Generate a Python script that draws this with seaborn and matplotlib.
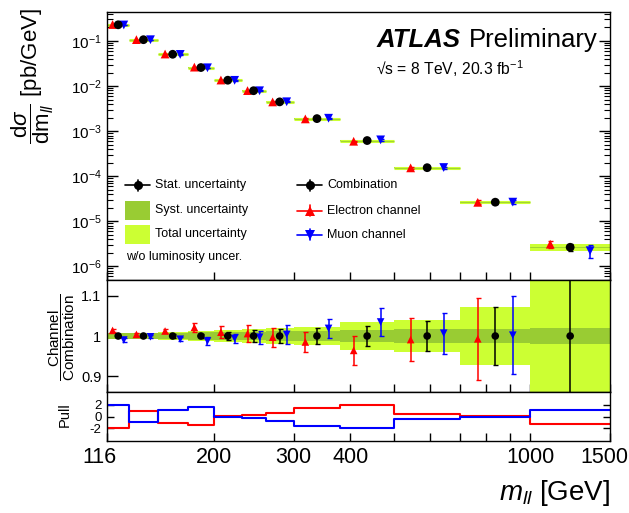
import numpy as np
import pandas as pd
import matplotlib
matplotlib.use("Agg")
import matplotlib.pyplot as plt
import seaborn as sns
from matplotlib.lines import Line2D
from matplotlib.patches import Rectangle
from matplotlib.ticker import FixedLocator, FixedFormatter, LogLocator, NullLocator, NullFormatter

# ---- data: dilepton invariant-mass bins ----
mass_edges = [116, 130, 150, 175, 200, 230, 260, 300, 380, 500, 700, 1000, 1500]

# combined cross section dsigma/dm [pb/GeV]
xsec_comb = [0.229, 0.107, 0.0508, 0.0258, 0.0135, 0.0079, 0.00447, 0.0019,
             6.2e-4, 1.55e-4, 2.66e-5, 2.66e-6]
# relative uncertainties of the combination
comb_stat = [0.003, 0.003, 0.004, 0.006, 0.010, 0.014, 0.017, 0.020, 0.026, 0.037, 0.072, 0.18]
comb_syst = [0.007, 0.007, 0.008, 0.009, 0.010, 0.011, 0.012, 0.013, 0.014, 0.017, 0.018, 0.019]
comb_total = [0.008, 0.008, 0.009, 0.012, 0.014, 0.018, 0.021, 0.023, 0.034, 0.040, 0.073, 0.19]

# channel / combination ratios and their relative uncertainties
ratio_el = [1.014, 1.004, 1.0125, 1.0215, 1.0095, 1.006, 0.997, 0.985, 0.964, 0.991, 0.993, 1.17]
ratio_mu = [0.990, 0.998, 0.992, 0.9875, 0.994, 0.997, 1.004, 1.019, 1.035, 1.007, 1.002, 0.84]
err_el = [0.004, 0.004, 0.005, 0.011, 0.015, 0.021, 0.024, 0.026, 0.037, 0.054, 0.103, 0.18]
err_mu = [0.004, 0.004, 0.005, 0.011, 0.012, 0.016, 0.023, 0.024, 0.034, 0.051, 0.098, 0.32]

# pulls of each channel with respect to the combination
pull_el = [-1.9, 0.86, -1.03, -1.5, 0.05, 0.28, 0.68, 1.5, 2.0, 0.4, 0.17, -1.25]
pull_mu = [2.0, -0.86, 1.03, 1.6, -0.02, -0.3, -0.72, -1.55, -2.05, -0.45, -0.17, 1.15]

xtick_values = [116, 200, 300, 400, 500, 600, 700, 800, 900, 1000, 1500]
xtick_labels = ["", "200", "300", "400", "", "", "", "", "", "1000", ""]

# ---- style ----
sns.set_theme(style="white")
plt.rcParams["font.family"] = ["Liberation Sans", "DejaVu Sans"]
plt.rcParams["mathtext.fontset"] = "custom"
plt.rcParams["mathtext.rm"] = "Liberation Sans"
plt.rcParams["mathtext.it"] = "Liberation Sans:italic"
plt.rcParams["mathtext.bf"] = "Liberation Sans:bold"
plt.rcParams["mathtext.sf"] = "Liberation Sans"
for key in ("text.color", "axes.labelcolor", "xtick.color", "ytick.color", "axes.edgecolor"):
    plt.rcParams[key] = "black"
plt.rcParams["axes.linewidth"] = 1.0

C_SYST = "#99cc33"
C_TOT = "#ccff33"
C_EL = "#ff0000"
C_MU = "#0000ff"

W, H = 629, 513
fig = plt.figure(figsize=(W / 100, H / 100), dpi=100)


def box(l, t, r, b):
    return [l / W, 1 - b / H, (r - l) / W, (b - t) / H]


def fx(px):
    return px / W


def fy(py):
    return 1 - py / H


ax_main = fig.add_axes(box(107, 12, 610, 280))
ax_ratio = fig.add_axes(box(107, 280, 610, 392))
ax_pull = fig.add_axes(box(107, 392, 610, 441))

lo = np.array(mass_edges[:-1], float)
hi = np.array(mass_edges[1:], float)
x_comb = np.sqrt(lo * hi)
x_el = lo * (hi / lo) ** 0.25
x_mu = lo * (hi / lo) ** 0.75

xs = np.array(xsec_comb)
r_el, r_mu = np.array(ratio_el), np.array(ratio_mu)
e_el, e_mu = np.array(err_el), np.array(err_mu)
c_stat, c_syst, c_tot = np.array(comb_stat), np.array(comb_syst), np.array(comb_total)

for ax in (ax_main, ax_ratio, ax_pull):
    ax.set_xscale("log")
    ax.set_xlim(116, 1500)

marker_map = {"Combination": "o", "Electron channel": "^", "Muon channel": "v"}
color_map = {"Combination": "black", "Electron channel": C_EL, "Muon channel": C_MU}

# ---- main panel: cross sections ----
ax_main.set_yscale("log")
ax_main.set_ylim(5e-7, 0.44)
for i in range(len(xs)):
    ax_main.fill_between([lo[i], hi[i]], xs[i] * (1 - c_tot[i]), xs[i] * (1 + c_tot[i]),
                         color=C_TOT, lw=0)
    ax_main.fill_between([lo[i], hi[i]], xs[i] * (1 - c_syst[i]), xs[i] * (1 + c_syst[i]),
                         color=C_SYST, lw=0)
ax_main.hlines(xs, lo, hi, color=C_TOT, lw=2.2)
ax_main.hlines(xs, lo, hi, color=C_SYST, lw=0.6)

y_el = xs * r_el
y_mu = xs * r_mu
ax_main.errorbar(x_el, y_el, yerr=y_el * e_el, fmt="none", ecolor=C_EL, elinewidth=1.1, capsize=1.8)
ax_main.errorbar(x_mu, y_mu, yerr=y_mu * e_mu, fmt="none", ecolor=C_MU, elinewidth=1.1, capsize=1.8)
ax_main.errorbar(x_comb, xs, yerr=xs * c_stat, fmt="none", ecolor="black", elinewidth=1.1, capsize=1.8)

df_main = pd.DataFrame({
    "mass": np.concatenate([x_el, x_mu, x_comb]),
    "value": np.concatenate([y_el, y_mu, xs]),
    "series": ["Electron channel"] * len(xs) + ["Muon channel"] * len(xs) + ["Combination"] * len(xs),
})
sns.scatterplot(data=df_main, x="mass", y="value", hue="series", style="series",
                markers=marker_map, palette=color_map, s=40, linewidth=0,
                legend=False, ax=ax_main, zorder=5)

dec = [1e-6, 1e-5, 1e-4, 1e-3, 1e-2, 1e-1]
ax_main.yaxis.set_major_locator(FixedLocator(dec))
ax_main.yaxis.set_major_formatter(FixedFormatter([r"$10^{-%d}$" % k for k in (6, 5, 4, 3, 2, 1)]))
ax_main.yaxis.set_minor_locator(LogLocator(base=10, subs=np.arange(2, 10), numticks=20))
ax_main.yaxis.set_minor_formatter(NullFormatter())
ax_main.tick_params(axis="y", which="major", direction="in", length=8, width=1,
                    left=True, right=True, labelsize=11, pad=4)
ax_main.tick_params(axis="y", which="minor", direction="in", length=4, width=0.8,
                    left=True, right=True)

# ---- ratio panel ----
ax_ratio.set_ylim(0.86, 1.14)
ext = lambda a: np.append(a, a[-1])
ax_ratio.fill_between(mass_edges, 1 - ext(c_tot), 1 + ext(c_tot), step="post", color=C_TOT, lw=0)
ax_ratio.fill_between(mass_edges, 1 - ext(c_syst), 1 + ext(c_syst), step="post", color=C_SYST, lw=0)

lo_lim, hi_lim = ax_ratio.get_ylim()
vis_el = (r_el > lo_lim) & (r_el < hi_lim)
vis_mu = (r_mu > lo_lim) & (r_mu < hi_lim)
ax_ratio.errorbar(x_el[vis_el], r_el[vis_el], yerr=e_el[vis_el], fmt="none", ecolor=C_EL,
                  elinewidth=1.1, capsize=1.8)
ax_ratio.errorbar(x_mu[vis_mu], r_mu[vis_mu], yerr=e_mu[vis_mu], fmt="none", ecolor=C_MU,
                  elinewidth=1.1, capsize=1.8)
ax_ratio.errorbar(x_comb, np.ones_like(x_comb), yerr=c_stat, fmt="none", ecolor="black",
                  elinewidth=1.1, capsize=1.8)
df_ratio = pd.DataFrame({
    "mass": np.concatenate([x_el[vis_el], x_mu[vis_mu], x_comb]),
    "value": np.concatenate([r_el[vis_el], r_mu[vis_mu], np.ones_like(x_comb)]),
    "series": ["Electron channel"] * int(vis_el.sum()) + ["Muon channel"] * int(vis_mu.sum())
              + ["Combination"] * len(x_comb),
})
sns.scatterplot(data=df_ratio, x="mass", y="value", hue="series", style="series",
                markers=marker_map, palette=color_map, s=30, linewidth=0,
                legend=False, ax=ax_ratio, zorder=5)
ax_ratio.set_yticks([0.9, 1.0, 1.1])
ax_ratio.set_yticklabels(["0.9", "1", "1.1"])
ax_ratio.tick_params(axis="y", direction="in", length=8, width=1, left=True, right=True,
                     labelsize=10.5, pad=4)

# ---- pull panel ----
ax_pull.set_ylim(-4.2, 4.2)
df_pull = pd.DataFrame({
    "mass": mass_edges * 2,
    "pull": np.concatenate([ext(np.array(pull_el)), ext(np.array(pull_mu))]),
    "series": ["Electron channel"] * len(mass_edges) + ["Muon channel"] * len(mass_edges),
})
sns.lineplot(data=df_pull, x="mass", y="pull", hue="series", palette=color_map,
             drawstyle="steps-post", lw=1.5, legend=False, ax=ax_pull, estimator=None, sort=True)
ax_pull.set_yticks([-2, 0, 2])
ax_pull.set_yticklabels(["-2", "0", "2"])
ax_pull.tick_params(axis="y", direction="in", length=5, width=1, left=True, right=True,
                    labelsize=9.5, pad=4)

# ---- shared x axis formatting ----
for ax in (ax_main, ax_ratio, ax_pull):
    ax.xaxis.set_major_locator(FixedLocator(xtick_values))
    ax.xaxis.set_minor_locator(NullLocator())
    ax.tick_params(axis="x", direction="in", length=6, width=1, bottom=True, top=False)
    ax.set_xlabel("")
    ax.set_ylabel("")
    for s in ax.spines.values():
        s.set_visible(True)
        s.set_color("black")
ax_main.tick_params(axis="x", labelbottom=False)
ax_ratio.tick_params(axis="x", labelbottom=False)
ax_pull.xaxis.set_major_formatter(FixedFormatter(xtick_labels))
ax_pull.tick_params(axis="x", labelsize=15.5, pad=4)
# range-end labels sit slightly left of the axis ends
label_top = fy(441 + 5.6)
fig.text(fx(99.5), label_top, "116", ha="center", va="top", fontsize=15.5)
fig.text(fx(604), label_top, "1500", ha="center", va="top", fontsize=15.5)

# ---- axis titles ----
fig.text(fx(33), fy(76), r"$\dfrac{\mathrm{d}\sigma}{\mathrm{dm}_{\mathit{ll}}}$ [pb/GeV]",
         rotation=90, ha="center", va="center", fontsize=16)
fig.text(fx(62), fy(337), r"$\dfrac{\mathrm{Channel}}{\mathrm{Combination}}$",
         rotation=90, ha="center", va="center", fontsize=11)
fig.text(fx(65), fy(415), "Pull", rotation=90, ha="center", va="center", fontsize=10.5)
fig.text(fx(610), fy(493), r"$m_{ll}$ [GeV]", ha="right", va="center", fontsize=20)

# ---- experiment label ----
fig.text(fx(377), fy(46.7), "ATLAS", fontsize=18.5, fontweight="bold", fontstyle="italic",
         va="baseline", ha="left")
fig.text(fx(469), fy(46.7), "Preliminary", fontsize=18.5, va="baseline", ha="left")
fig.text(fx(376), fy(75), "\u221as = 8 TeV, 20.3 fb$^{-1}$", fontsize=11.3,
         va="baseline", ha="left")


# ---- legend (two columns) ----
def key_point(x0, y, color, marker):
    fig.add_artist(Line2D([fx(x0), fx(x0 + 25)], [fy(y), fy(y)], color=color, lw=1.2,
                          transform=fig.transFigure))
    fig.add_artist(Line2D([fx(x0 + 12.5)], [fy(y)], color=color, marker=marker, ms=6.5, mew=0,
                          ls="none", transform=fig.transFigure))
    fig.add_artist(Line2D([fx(x0 + 12.5)] * 2, [fy(y - 5.5), fy(y + 5.5)], color=color, lw=1.2,
                          transform=fig.transFigure))


def key_box(x0, y, color):
    fig.add_artist(Rectangle((fx(x0), fy(y + 9.5)), 25 / W, 19 / H, facecolor=color,
                             edgecolor="none", transform=fig.transFigure))


rows = [185, 210.5, 234.5]
key_point(125, rows[0], "black", "o")
key_box(125, rows[1], C_SYST)
key_box(125, rows[2], C_TOT)
for y, t in zip(rows, ["Stat. uncertainty", "Syst. uncertainty", "Total uncertainty"]):
    fig.text(fx(155), fy(y), t, fontsize=9, va="center", ha="left")
fig.text(fx(126), fy(257), "w/o luminosity uncer.", fontsize=9, va="center", ha="left")

key_point(297, rows[0], "black", "o")
key_point(297, rows[1], C_EL, "^")
key_point(297, rows[2], C_MU, "v")
for y, t in zip(rows, ["Combination", "Electron channel", "Muon channel"]):
    fig.text(fx(327), fy(y), t, fontsize=9, va="center", ha="left")

fig.savefig("out.png", dpi=100)
